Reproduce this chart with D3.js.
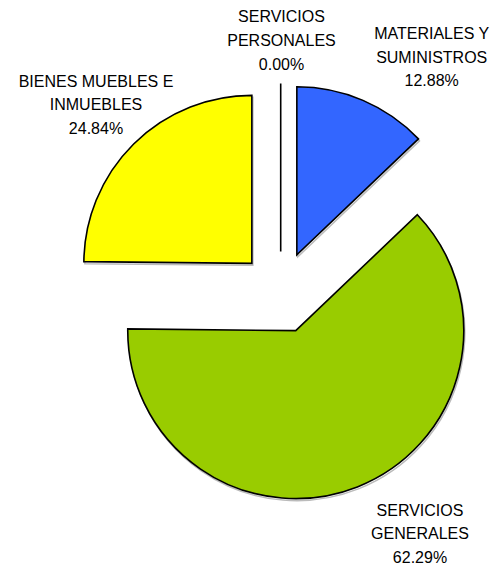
<!DOCTYPE html>
<html>
<head>
<meta charset="utf-8">
<script src="https://cdn.jsdelivr.net/npm/d3@7"></script>
<style>
  html, body { margin: 0; padding: 0; background: #fff; }
  svg { display: block; }
  text { font-family: "Liberation Sans", Arial, sans-serif; font-size: 16px; fill: #000; }
</style>
</head>
<body>
<svg id="chart" width="496" height="567"></svg>
<script>
// Data
const categories = ["SERVICIOS PERSONALES", "MATERIALES Y SUMINISTROS", "SERVICIOS GENERALES", "BIENES MUEBLES E INMUEBLES"];
const values = [0.00, 12.88, 62.29, 24.84];
const labelLines = [
  ["SERVICIOS", "PERSONALES", "0.00%"],
  ["MATERIALES Y", "SUMINISTROS", "12.88%"],
  ["SERVICIOS", "GENERALES", "62.29%"],
  ["BIENES MUEBLES E", "INMUEBLES", "24.84%"]
];
const colors = ["#FFFFFF", "#3366FF", "#99CC00", "#FFFF00"];

// Layout
const cx = 280.7, cy = 292.5, radius = 168, explode = 41;
const labelPos = [[281.5, 22.2], [431.7, 38.8], [420, 515.5], [96, 86.5]];
const lineGap = 23.8;

const svg = d3.select("#chart");
const pie = d3.pie().sort(null).value(d => d).startAngle(0).endAngle(2 * Math.PI);
const arcs = pie(values);
const arc = d3.arc().innerRadius(0).outerRadius(radius);

const g = svg.append("g").attr("transform", `translate(${cx},${cy})`);

function offset(d) {
  const a = (d.startAngle + d.endAngle) / 2;
  return [Math.sin(a) * explode, -Math.cos(a) * explode];
}

// subtle shadow
g.selectAll("path.shadow")
  .data(arcs.filter(d => d.value > 0))
  .join("path")
  .attr("class", "shadow")
  .attr("d", arc)
  .attr("transform", d => { const o = offset(d); return `translate(${o[0] + 1},${o[1] + 2})`; })
  .attr("fill", "none")
  .attr("stroke", "#bbb")
  .attr("stroke-width", 1.5);

g.selectAll("path.slice")
  .data(arcs)
  .join("path")
  .attr("class", "slice")
  .attr("d", arc)
  .attr("transform", d => { const o = offset(d); return `translate(${o[0]},${o[1]})`; })
  .attr("fill", (d, i) => colors[i])
  .attr("stroke", "#000")
  .attr("stroke-width", 1.6)
  .attr("stroke-linejoin", "miter");

// labels
const lg = svg.append("g");
categories.forEach((c, i) => {
  const t = lg.append("text")
    .attr("text-anchor", "middle")
    .attr("x", labelPos[i][0])
    .attr("y", labelPos[i][1]);
  labelLines[i].forEach((line, j) => {
    t.append("tspan")
      .attr("x", labelPos[i][0])
      .attr("y", labelPos[i][1] + j * lineGap)
      .text(line);
  });
});
</script>
</body>
</html>
